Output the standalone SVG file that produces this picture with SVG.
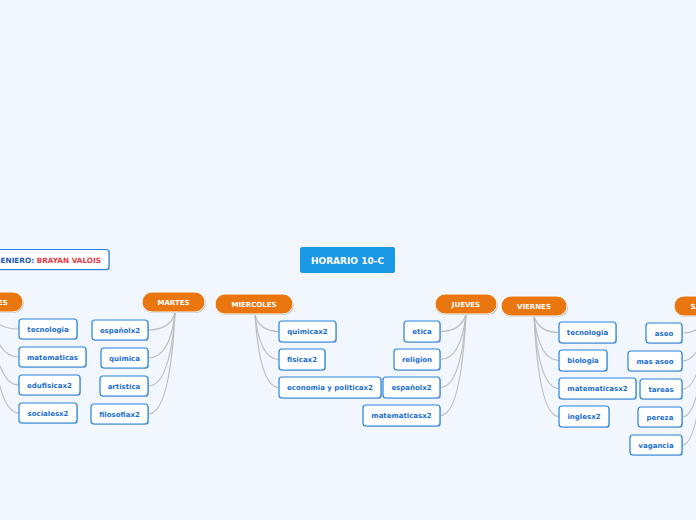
<svg xmlns="http://www.w3.org/2000/svg" width="696" height="520" viewBox="0 0 696 520">
<defs>
<style>
.bg{fill:#f2f6fe}
.p rect.b{fill:#ea760f;stroke:#ffffff;stroke-width:1}
.p rect.s{fill:#b9bcc4}
.p text{fill:#ffffff;font-family:"DejaVu Sans",Verdana,sans-serif;font-weight:bold;font-size:7px;text-anchor:middle}
.c rect.b{fill:#ffffff;stroke:#2484e2;stroke-width:1.2}
.c rect.s{fill:#c5cad6}
.c text{fill:#1b6fd0;font-family:"DejaVu Sans",Verdana,sans-serif;font-weight:bold;font-size:7px;text-anchor:middle}
.t text{fill:#ffffff;font-family:"DejaVu Sans",Verdana,sans-serif;font-weight:bold;font-size:9px;text-anchor:middle}
.conn path{fill:none;stroke:#bdbdbd;stroke-width:1.2}
</style>
</defs>
<rect class="bg" x="0" y="0" width="696" height="520"/>

<g id="connectors" class="conn">
<path d="M-10,312 Q-4,329 19,329"/>
<path d="M-10,312 Q-4,357 19,357"/>
<path d="M-10,312 Q-4,385 19,385"/>
<path d="M-10,312 Q-4,413 19,413"/>
<path d="M175,313 Q170,330 148,330"/>
<path d="M175,313 Q170,358 148,358"/>
<path d="M175,313 Q170,386 148,386"/>
<path d="M175,313 Q170,414 148,414"/>
<path d="M255,315 Q260,331.5 279,331.5"/>
<path d="M255,315 Q260,359.5 279,359.5"/>
<path d="M255,315 Q260,387.5 279,387.5"/>
<path d="M466,314 Q461,331.5 440,331.5"/>
<path d="M466,314 Q461,359.5 440,359.5"/>
<path d="M466,314 Q461,387.5 440,387.5"/>
<path d="M466,314 Q461,415.5 440,415.5"/>
<path d="M534,316 Q539,332.5 559,332.5"/>
<path d="M534,316 Q539,360.5 559,360.5"/>
<path d="M534,316 Q539,388.5 559,388.5"/>
<path d="M534,316 Q539,416.5 559,416.5"/>
<path d="M706,316 Q701,333 682,333"/>
<path d="M706,316 Q701,361 682,361"/>
<path d="M706,316 Q701,389 682,389"/>
<path d="M706,316 Q701,417 682,417"/>
<path d="M706,316 Q701,445 682,445"/>
</g>

<g id="title" class="t">
<rect x="300" y="247" width="95" height="26" rx="2" fill="#1b98e6"/>
<text x="347.5" y="263.5">HORARIO 10-C</text>
</g>

<g id="teacher" class="c">
<rect class="s" x="-50" y="250" width="160" height="20.5" rx="3"/>
<rect class="b" x="-51" y="249.5" width="160" height="20" rx="3"/>
<text x="101" y="262.5" style="text-anchor:end;font-size:7.3px"><tspan fill="#1d5cb4">INGENIERO: </tspan><tspan fill="#f03a44">BRAYAN VALOIS</tspan></text>
</g>

<g id="lunes" class="p"><rect class="s" x="-40" y="293" width="64" height="20" rx="10"/><rect class="b" x="-40" y="292" width="63" height="20" rx="10"/><text x="-5" y="304.5">LUNES</text></g>
<g id="martes" class="p"><rect class="s" x="142" y="293" width="64" height="20" rx="10"/><rect class="b" x="142" y="292" width="63" height="20" rx="10"/><text x="173.5" y="304.5">MARTES</text></g>
<g id="miercoles" class="p"><rect class="s" x="215" y="295" width="79" height="20" rx="10"/><rect class="b" x="215" y="294" width="78" height="20" rx="10"/><text x="254" y="306.5">MIERCOLES</text></g>
<g id="jueves" class="p"><rect class="s" x="435" y="295" width="63" height="20" rx="10"/><rect class="b" x="435" y="294" width="62" height="20" rx="10"/><text x="466" y="306.5">JUEVES</text></g>
<g id="viernes" class="p"><rect class="s" x="501" y="297" width="67" height="20" rx="10"/><rect class="b" x="501" y="296" width="66" height="20" rx="10"/><text x="534" y="308.5">VIERNES</text></g>
<g id="sabado" class="p"><rect class="s" x="674" y="297" width="67" height="20" rx="10"/><rect class="b" x="674" y="296" width="66" height="20" rx="10"/><text x="707" y="308.5">SABADO</text></g>

<g id="lun-tecnologia" class="c"><rect class="s" x="20" y="320" width="58" height="20" rx="3"/><rect class="b" x="19" y="319" width="58" height="20" rx="3"/><text x="48" y="331.5">tecnologia</text></g>
<g id="lun-matematicas" class="c"><rect class="s" x="20" y="348" width="67" height="20" rx="3"/><rect class="b" x="19" y="347" width="67" height="20" rx="3"/><text x="52.5" y="359.5">matematicas</text></g>
<g id="lun-edufisica" class="c"><rect class="s" x="20" y="376" width="61" height="20" rx="3"/><rect class="b" x="19" y="375" width="61" height="20" rx="3"/><text x="49.5" y="387.5">edufisicax2</text></g>
<g id="lun-sociales" class="c"><rect class="s" x="20" y="404" width="58" height="20" rx="3"/><rect class="b" x="19" y="403" width="58" height="20" rx="3"/><text x="48" y="415.5">socialesx2</text></g>

<g id="mar-espanol" class="c"><rect class="s" x="93" y="321" width="56" height="20" rx="3"/><rect class="b" x="92" y="320" width="56" height="20" rx="3"/><text x="120" y="332.5">españolx2</text></g>
<g id="mar-quimica" class="c"><rect class="s" x="102" y="349" width="47" height="20" rx="3"/><rect class="b" x="101" y="348" width="47" height="20" rx="3"/><text x="124.5" y="360.5">quimica</text></g>
<g id="mar-artistica" class="c"><rect class="s" x="101" y="377" width="48" height="20" rx="3"/><rect class="b" x="100" y="376" width="48" height="20" rx="3"/><text x="124" y="388.5">artistica</text></g>
<g id="mar-filosofia" class="c"><rect class="s" x="92" y="405" width="57" height="20" rx="3"/><rect class="b" x="91" y="404" width="57" height="20" rx="3"/><text x="119.5" y="416.5">filosofiax2</text></g>

<g id="mie-quimica" class="c"><rect class="s" x="280" y="322" width="57" height="21" rx="3"/><rect class="b" x="279" y="321" width="57" height="21" rx="3"/><text x="307.5" y="334">quimicax2</text></g>
<g id="mie-fisica" class="c"><rect class="s" x="280" y="350" width="46" height="21" rx="3"/><rect class="b" x="279" y="349" width="46" height="21" rx="3"/><text x="302" y="362">fisicax2</text></g>
<g id="mie-economia" class="c"><rect class="s" x="280" y="378" width="102" height="21" rx="3"/><rect class="b" x="279" y="377" width="102" height="21" rx="3"/><text x="330" y="390">economia y politicax2</text></g>

<g id="jue-etica" class="c"><rect class="s" x="405" y="322" width="36" height="21" rx="3"/><rect class="b" x="404" y="321" width="36" height="21" rx="3"/><text x="422" y="334">etica</text></g>
<g id="jue-religion" class="c"><rect class="s" x="395" y="350" width="46" height="21" rx="3"/><rect class="b" x="394" y="349" width="46" height="21" rx="3"/><text x="417" y="362">religion</text></g>
<g id="jue-espanol" class="c"><rect class="s" x="384" y="378" width="57" height="21" rx="3"/><rect class="b" x="383" y="377" width="57" height="21" rx="3"/><text x="411.5" y="390">españolx2</text></g>
<g id="jue-matematicas" class="c"><rect class="s" x="364" y="406" width="77" height="21" rx="3"/><rect class="b" x="363" y="405" width="77" height="21" rx="3"/><text x="401.5" y="418">matematicasx2</text></g>

<g id="vie-tecnologia" class="c"><rect class="s" x="560" y="323" width="57" height="21" rx="3"/><rect class="b" x="559" y="322" width="57" height="21" rx="3"/><text x="587.5" y="335">tecnologia</text></g>
<g id="vie-biologia" class="c"><rect class="s" x="560" y="351" width="48" height="21" rx="3"/><rect class="b" x="559" y="350" width="48" height="21" rx="3"/><text x="583" y="363">biologia</text></g>
<g id="vie-matematicas" class="c"><rect class="s" x="560" y="379" width="77" height="21" rx="3"/><rect class="b" x="559" y="378" width="77" height="21" rx="3"/><text x="597.5" y="391">matematicasx2</text></g>
<g id="vie-ingles" class="c"><rect class="s" x="560" y="407" width="50" height="21" rx="3"/><rect class="b" x="559" y="406" width="50" height="21" rx="3"/><text x="584" y="419">inglesx2</text></g>

<g id="sab-aseo" class="c"><rect class="s" x="647" y="324" width="36" height="20" rx="3"/><rect class="b" x="646" y="323" width="36" height="20" rx="3"/><text x="664" y="335.5">aseo</text></g>
<g id="sab-masaseo" class="c"><rect class="s" x="629" y="352" width="54" height="20" rx="3"/><rect class="b" x="628" y="351" width="54" height="20" rx="3"/><text x="655" y="363.5">mas aseo</text></g>
<g id="sab-tareas" class="c"><rect class="s" x="641" y="380" width="42" height="20" rx="3"/><rect class="b" x="640" y="379" width="42" height="20" rx="3"/><text x="661" y="391.5">tareas</text></g>
<g id="sab-pereza" class="c"><rect class="s" x="639" y="408" width="44" height="20" rx="3"/><rect class="b" x="638" y="407" width="44" height="20" rx="3"/><text x="660" y="419.5">pereza</text></g>
<g id="sab-vagancia" class="c"><rect class="s" x="631" y="436" width="52" height="20" rx="3"/><rect class="b" x="630" y="435" width="52" height="20" rx="3"/><text x="656" y="447.5">vagancia</text></g>
</svg>
